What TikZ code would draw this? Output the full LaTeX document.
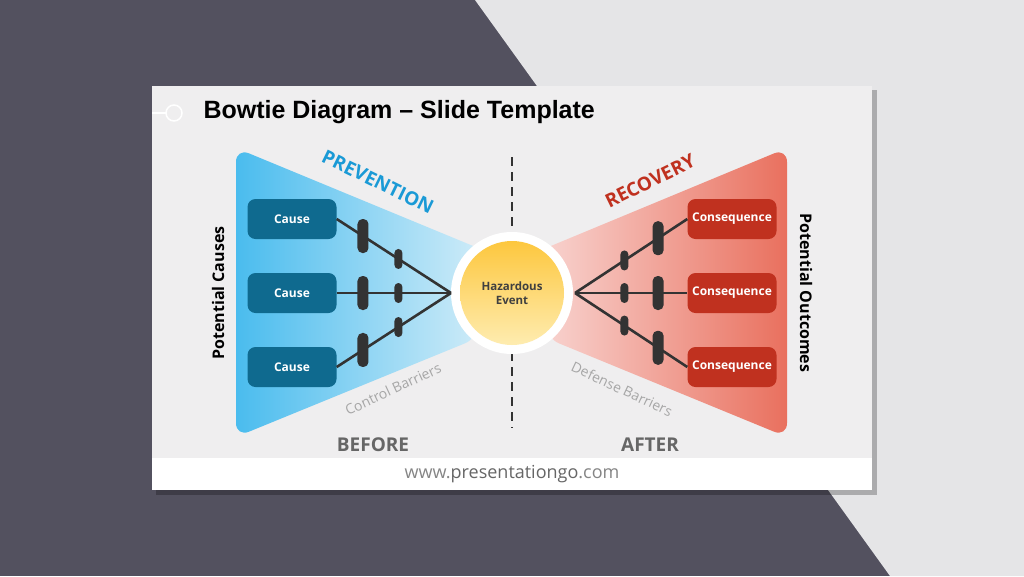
\documentclass[tikz,border=0pt]{standalone}
\usepackage{fontspec}
\setmainfont{Open Sans}
\newfontfamily\titlefont{Liberation Sans}
\definecolor{slate}{HTML}{53515F}
\definecolor{pale}{HTML}{E5E5E7}
\definecolor{slide}{HTML}{EFEEEF}
\definecolor{causeblue}{HTML}{0F6A8F}
\definecolor{conred}{HTML}{C0311F}
\definecolor{barrier}{HTML}{333333}
\definecolor{txtgray}{HTML}{666666}
\definecolor{prevblue}{HTML}{1A9AD6}
\definecolor{wingblue}{HTML}{4ABCEE}
\definecolor{winglight}{HTML}{CDEBF8}
\definecolor{wingpink}{HTML}{F8D2CE}
\definecolor{wingred}{HTML}{E9705E}
\definecolor{sunhi}{HTML}{FDC73E}
\definecolor{sunlo}{HTML}{FEECB0}
\tikzset{
  causebox/.style={draw=none,fill=causeblue,rounded corners=8pt,minimum width=89pt,minimum height=40pt,text=white,font=\fontsize{12}{14}\selectfont\bfseries},
  conbox/.style={causebox,fill=conred},
  bigbar/.style={fill=barrier,rounded corners=5pt,minimum width=11pt,minimum height=34pt,inner sep=0pt},
  smallbar/.style={fill=barrier,rounded corners=4pt,minimum width=8pt,minimum height=20pt,inner sep=0pt},
  link/.style={draw=barrier,line width=2.6pt}
}
\begin{document}
\begin{tikzpicture}[x=1pt,y=-1pt]
\useasboundingbox (0,0) rectangle (1024,576);
% background
\fill[slate] (0,0) rectangle (1024,576);
\fill[pale] (475,0) -- (1024,0) -- (1024,576) -- (890,576) -- cycle;
% slide
\fill[black,opacity=.25] (156,90) rectangle (877,495);
\fill[slide] (152,86) rectangle (872,490);
\fill[white] (152,458) rectangle (872,490);
\node (web) at (512,474) {\fontsize{18}{20}\selectfont\color{txtgray!80}www.\textcolor{txtgray}{presentationgo}.com};
\draw[white,line width=1.5pt] (152,113) -- (166,113);
\node[circle,draw=white,line width=1.5pt,minimum size=16pt,inner sep=0pt] (dot) at (174,113) {};
\node[anchor=west] (title) at (200,112) {\titlefont\fontsize{25}{27}\selectfont\bfseries Bowtie Diagram \textendash{} Slide Template};
% wings
\shade[left color=wingblue,right color=winglight,rounded corners=14pt]
  (236,148) -- (236,437) -- (478,338) [sharp corners] -- (478,248) [rounded corners=14pt] -- cycle;
\shade[left color=wingpink,right color=wingred,rounded corners=14pt]
  (787,148) -- (787,437) -- (546,338) [sharp corners] -- (546,248) [rounded corners=14pt] -- cycle;
\draw[barrier,line width=2.2pt,dash pattern=on 9pt off 6pt] (512,157) -- (512,428);
% hazard
\node[circle,fill=white,minimum size=122pt] (ring) at (512,293) {};
\shade[top color=sunhi,bottom color=sunlo] (512,293) circle (52pt);
\node[align=center,font=\fontsize{11.5}{14}\selectfont\bfseries,text=black!75] (hazard) at (512,293) {Hazardous\\Event};
\coordinate (hl) at (451,293);
\coordinate (hr) at (575,293);
% causes and consequences
\foreach \n/\y in {1/219,2/293,3/367}{
  \node[causebox] (c\n) at (292,\y) {Cause};
  \node[conbox] (q\n) at (732,\y) {Consequence};
  \draw[link] (c\n.east) -- (hl) node[bigbar,pos=.23]{} node[smallbar,pos=.54]{};
  \draw[link] (hr) -- (q\n.west) node[smallbar,pos=.44]{} node[bigbar,pos=.74]{};
}
% labels
\node[rotate=-26,text=prevblue,font=\fontsize{19}{20}\selectfont\bfseries] (prev) at (378,182) {PREVENTION};
\node[rotate=26,text=conred,font=\fontsize{19}{20}\selectfont\bfseries] (rec) at (650,181) {RECOVERY};
\node[rotate=25,text=black!35,font=\fontsize{14}{15}\selectfont] (ctrl) at (393,389) {Control Barriers};
\node[rotate=-25,text=black!35,font=\fontsize{14}{15}\selectfont] (def) at (622,389) {Defense Barriers};
\node[rotate=90,font=\fontsize{16}{17}\selectfont\bfseries] (pc) at (218,293) {Potential Causes};
\node[rotate=-90,font=\fontsize{16}{17}\selectfont\bfseries] (po) at (806,293) {Potential Outcomes};
\node[text=txtgray,font=\fontsize{19}{20}\selectfont\bfseries] (before) at (373,445) {BEFORE};
\node[text=txtgray,font=\fontsize{19}{20}\selectfont\bfseries] (after) at (650,445) {AFTER};
\end{tikzpicture}
\end{document}
